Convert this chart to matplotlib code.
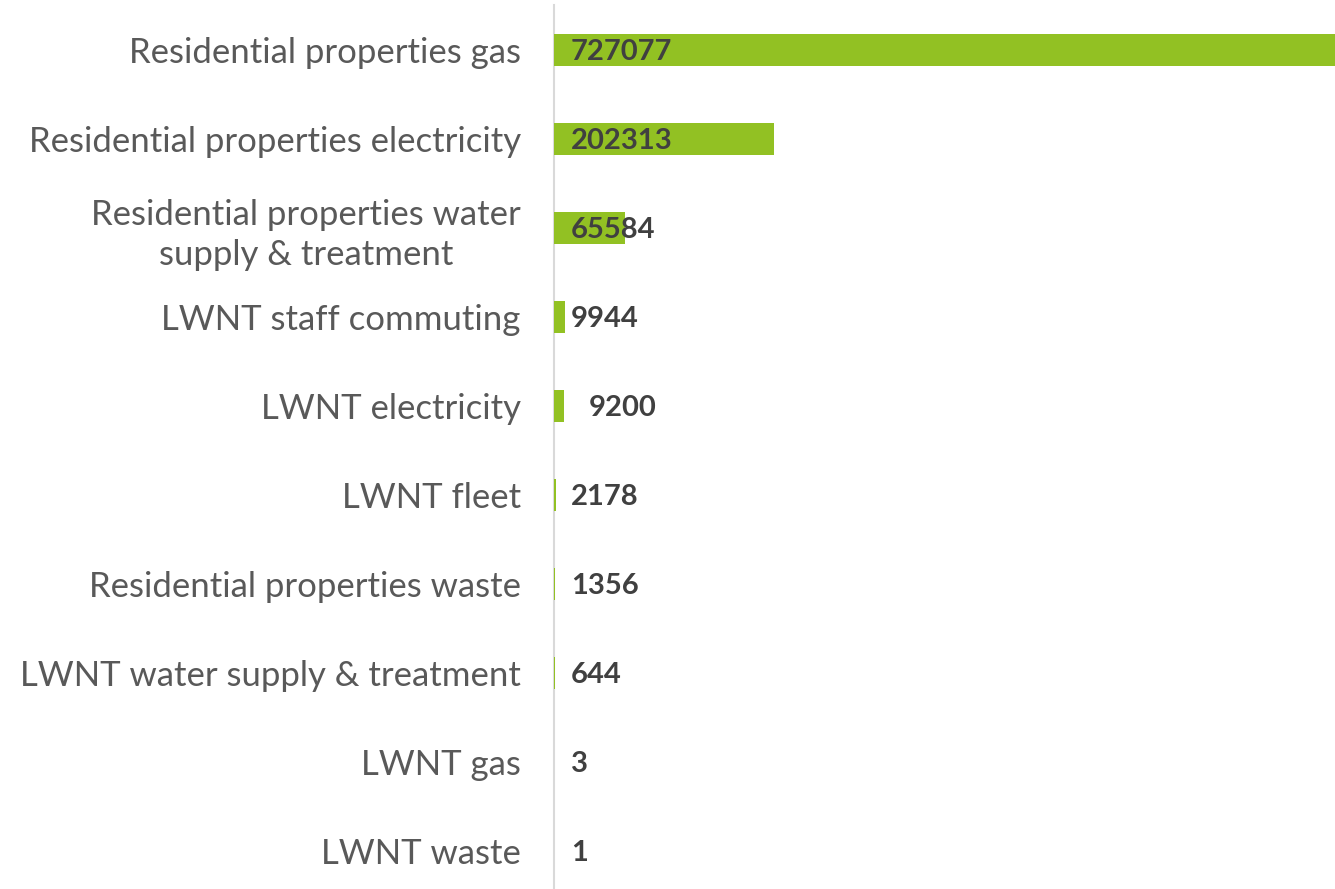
import matplotlib
matplotlib.use("Agg")
import matplotlib.pyplot as plt

categories = [
    "Residential properties gas",
    "Residential properties electricity",
    "Residential properties water\nsupply & treatment",
    "LWNT staff commuting",
    "LWNT electricity",
    "LWNT fleet",
    "Residential properties waste",
    "LWNT water supply & treatment",
    "LWNT gas",
    "LWNT waste",
]
values = [727077, 202313, 65584, 9944, 9200, 2178, 1356, 644, 3, 1]
value_labels = ["727077", "202313", "65584", "9944", "9200", "2178", "1356", "644", "3", "1"]

W, H = 1335, 889
fig = plt.figure(figsize=(W / 100, H / 100), dpi=100)
ax = fig.add_axes([554 / W, (H - 895.5) / H, (W - 554) / W, 890 / H])

pos = list(range(len(categories)))
ax.barh(pos, values, height=0.36, color="#92C123", zorder=2)
ax.set_ylim(len(categories) - 0.5, -0.5)
ax.set_xlim(0, 717200)

ax.set_yticks(pos)
ax.set_yticklabels(categories, fontsize=25, color="#595959", family=["Lato", "DejaVu Sans"],
                   ha="right", multialignment="center", linespacing=1.3)
ax.tick_params(axis="y", length=0, pad=24)
ax.set_xticks([])
for s in ["top", "right", "bottom"]:
    ax.spines[s].set_visible(False)
ax.spines["left"].set_color("#D9D9D9")
ax.spines["left"].set_linewidth(1.5)
ax.spines["left"].set_zorder(1)

for i, (v, lab) in enumerate(zip(values, value_labels)):
    off = 25 if lab == "9200" else 12
    ax.annotate(lab, xy=(0, i), xytext=(off, -1.5), textcoords="offset points",
                ha="left", va="center", fontsize=21, fontweight="bold",
                color="#404040", family=["Lato", "DejaVu Sans"], zorder=3)

fig.savefig("out.png", dpi=100)
